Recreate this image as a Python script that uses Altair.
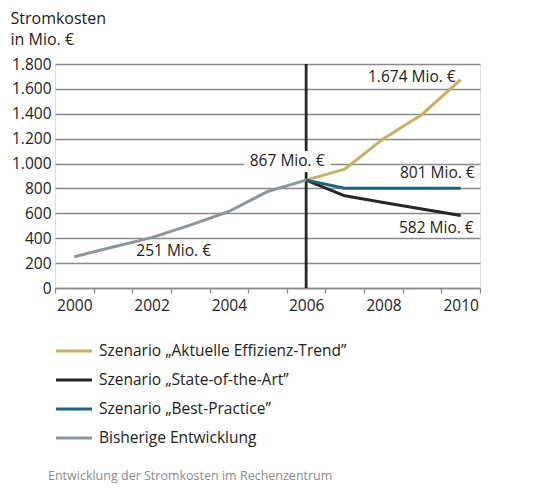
import altair as alt
import pandas as pd

# ---- data ----
years_hist = [2000, 2001, 2002, 2003, 2004, 2005, 2006]
values_hist = [251, 330, 405, 505, 615, 775, 867]

years_scen = [2006, 2007, 2008, 2009, 2010]
values_trend = [867, 955, 1200, 1395, 1674]
values_sota = [867, 741, 687, 634, 582]
values_best = [867, 801, 801, 801, 801]

series_names = [
    "Szenario \u201eAktuelle Effizienz-Trend\u201d",
    "Szenario \u201eState-of-the-Art\u201d",
    "Szenario \u201eBest-Practice\u201d",
    "Bisherige Entwicklung",
]
series_colors = ["#c9af5f", "#262626", "#1b6679", "#8a989d"]

y_ticks = [0, 200, 400, 600, 800, 1000, 1200, 1400, 1600, 1800]
y_title = ["Stromkosten", "in Mio. \u20ac"]
caption = "Entwicklung der Stromkosten im Rechenzentrum"

FONT = "Open Sans"
PLOT_W = 425
PLOT_H = 224

all_years = sorted(set(years_hist + years_scen))
x_min, x_max = all_years[0] - 0.5, all_years[-1] + 0.5
# ticks sit on the boundaries between the yearly intervals
x_tick_vals = [y - 0.5 for y in all_years] + [all_years[-1] + 0.5]
half_year_px = PLOT_W / (x_max - x_min) / 2


def de_label(v):
    return f"{v:,}".replace(",", ".") + " Mio. \u20ac"


rows = []
for y, v in zip(years_hist, values_hist):
    rows.append({"year": y, "value": v, "series": series_names[3]})
for name, vals in zip(series_names[:3], [values_trend, values_sota, values_best]):
    for y, v in zip(years_scen, vals):
        rows.append({"year": y, "value": v, "series": name})
df = pd.DataFrame(rows)

x_axis = alt.Axis(
    title=None,
    values=x_tick_vals,
    labelExpr="(datum.value + 0.5) % 2 == 0 ? format(datum.value + 0.5, 'd') : ''",
    labelAngle=0,
    labelOffset=half_year_px,
    labelFontSize=15.5,
    labelFont=FONT,
    labelColor="#222222",
    labelPadding=5,
    labelOverlap=False,
    labelBound=False,
    labelFlush=False,
    tickSize=5,
    tickColor="#8a8a8a",
    tickWidth=1.3,
    domainColor="#8a8a8a",
    domainWidth=1.3,
    grid=False,
)
x_scale = alt.Scale(domain=[x_min, x_max], nice=False, zero=False)

y_axis = alt.Axis(
    values=y_ticks,
    labelExpr="replace(format(datum.value, ','), ',', '.')",
    labelFontSize=15.5,
    labelFont=FONT,
    labelColor="#222222",
    labelPadding=4,
    labelOverlap=False,
    ticks=False,
    domain=False,
    grid=True,
    gridColor="#8a8a8a",
    gridWidth=1.3,
    title=y_title,
    titleAngle=0,
    titleAlign="left",
    titleBaseline="top",
    titleX=-45,
    titleY=-54,
    titleFont=FONT,
    titleFontSize=16,
    titleFontWeight="normal",
    titleColor="#222222",
    titleLineHeight=21,
)
y_scale = alt.Scale(domain=[0, 1800], nice=False)


def X():
    return alt.X("year:Q", scale=x_scale, axis=x_axis)


def Y():
    return alt.Y("value:Q", scale=y_scale, axis=y_axis)


split_df = pd.DataFrame({"year": [years_hist[-1]], "value": [values_hist[-1]],
                         "label": [de_label(values_hist[-1])]})

lines = alt.Chart(df).mark_line(strokeWidth=3, strokeJoin="round").encode(
    x=X(),
    y=Y(),
    color=alt.Color(
        "series:N",
        scale=alt.Scale(domain=series_names, range=series_colors),
        legend=alt.Legend(
            title=None,
            orient="none",
            legendX=-1,
            legendY=267,
            direction="vertical",
            symbolType="stroke",
            symbolSize=1296,
            symbolStrokeWidth=3.2,
            labelFont=FONT,
            labelFontSize=15.5,
            labelColor="#222222",
            labelOffset=5,
            labelLimit=0,
            rowPadding=-10,
        ),
    ),
    detail="series:N",
)

rule = alt.Chart(split_df).mark_rule(color="#262626", strokeWidth=2.8).encode(
    x=X(),
    y=alt.datum(0, scale=y_scale, axis=y_axis),
    y2=alt.datum(1800),
)

halo = alt.Chart(split_df).mark_text(
    font=FONT, fontSize=15.5, align="center", baseline="middle", dx=-19, dy=-19,
    fill="white", stroke="white", strokeWidth=13,
).encode(x=X(), y=Y(), text="label:N")

split_text = alt.Chart(split_df).mark_text(
    font=FONT, fontSize=15.5, align="center", baseline="middle", dx=-19, dy=-19,
    color="#222222",
).encode(x=X(), y=Y(), text="label:N")


def point_label(year, value, **kw):
    d = pd.DataFrame({"year": [year], "value": [value], "label": [de_label(value)]})
    return alt.Chart(d).mark_text(font=FONT, fontSize=15.5, baseline="middle",
                                  color="#222222", **kw).encode(
        x=X(), y=Y(), text="label:N")


lab_start = point_label(years_hist[0], values_hist[0], align="left", dx=62, dy=-6)
lab_trend = point_label(years_scen[-1], values_trend[-1], align="right", dx=-5, dy=-3)
lab_best = point_label(years_scen[-1], values_best[-1], align="right", dx=14, dy=-15)
lab_sota = point_label(years_scen[-1], values_sota[-1], align="right", dx=13, dy=12)

chart = alt.layer(
    rule, halo, lines, split_text, lab_start, lab_trend, lab_best, lab_sota
).properties(
    width=PLOT_W,
    height=PLOT_H,
    padding={"left": 47, "top": 56, "right": 50, "bottom": 205},
    autosize=alt.AutoSizeParams(type="none"),
    title=alt.Title(
        caption,
        orient="bottom",
        anchor="start",
        frame="group",
        font=FONT,
        fontSize=12.5,
        fontWeight="normal",
        color="#8c8c8c",
        dx=-7,
        offset=23,
    ),
).configure_view(
    stroke="#8a8a8a", strokeWidth=1.3
).configure(background="white")

chart.save("out.html", embed_options={"renderer": "svg", "actions": False})
